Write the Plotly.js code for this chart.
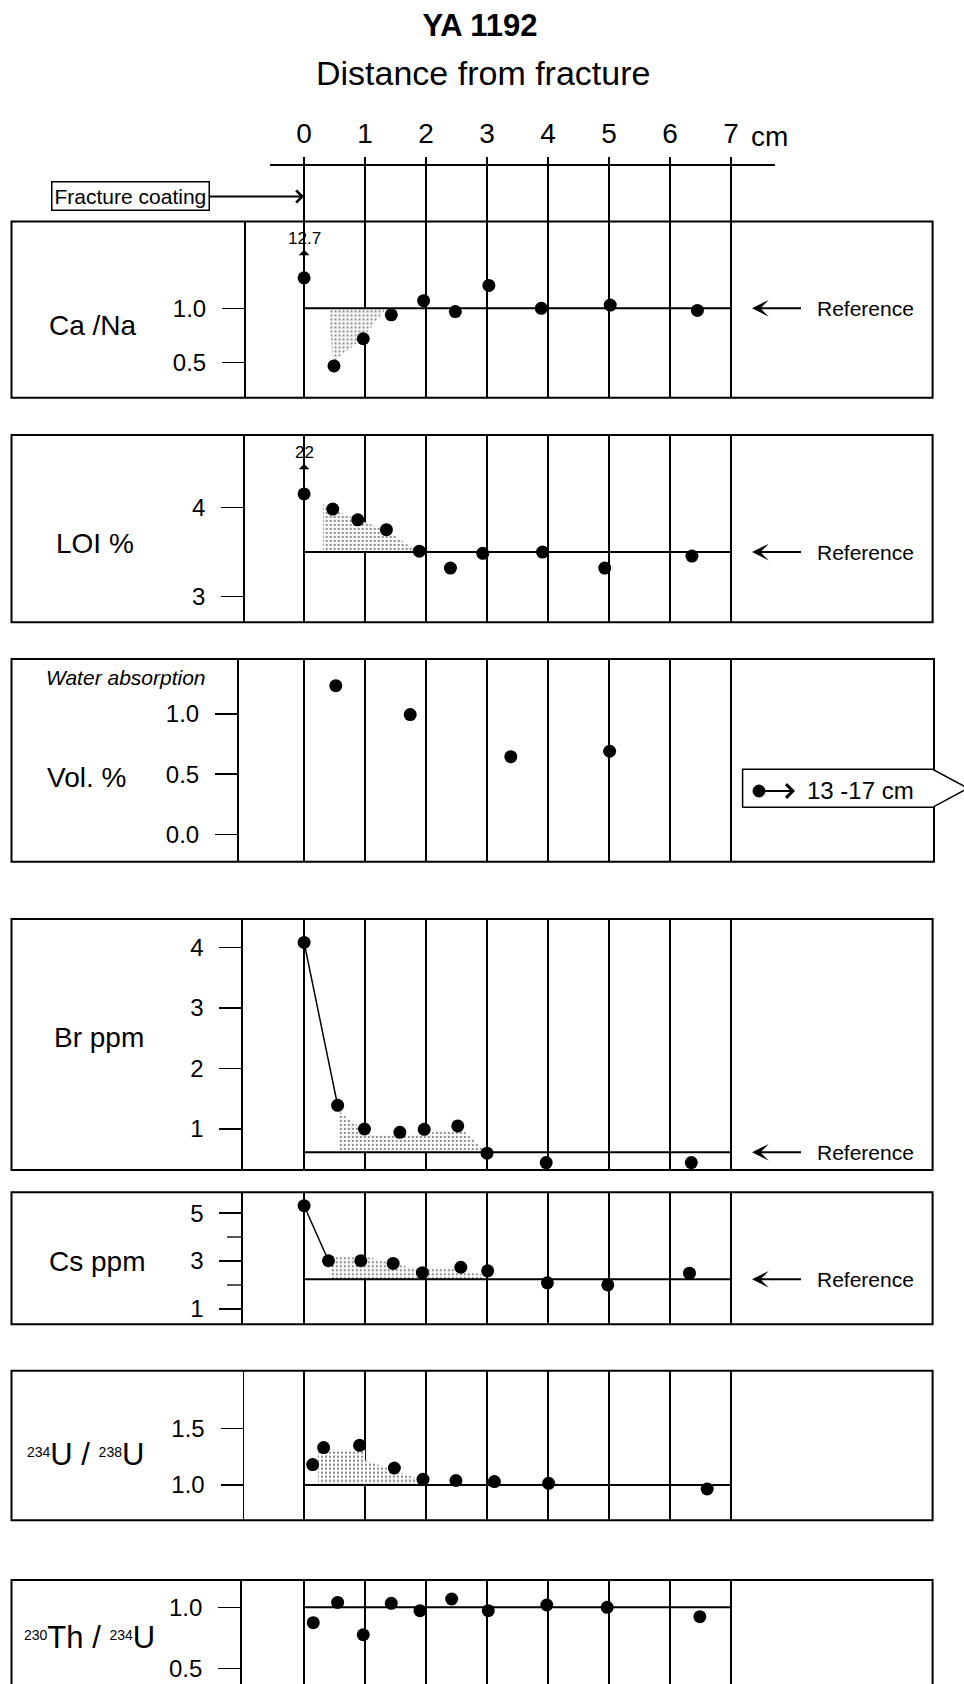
<!DOCTYPE html>
<html>
<head>
<meta charset="utf-8">
<script src="https://cdn.plot.ly/plotly-3.0.1.min.js"></script>
<style>html,body{margin:0;padding:0;background:#fff;}#chart{width:964px;height:1684px;}</style>
</head>
<body>
<div id="chart"></div>
<script>
// ---------------- DATA ----------------
const cmTicks = [0, 1, 2, 3, 4, 5, 6, 7];
const refSpan = [0, 7];

const xCaNa = [0, 0.49, 0.97, 1.43, 1.96, 2.48, 3.03, 3.89, 5.02, 6.45];
const yCaNa = [1.28, 0.47, 0.72, 0.94, 1.07, 0.97, 1.21, 1.0, 1.03, 0.98];
const refCaNa = 1.0;
const shadeCaNaX = [0.40, 0.47, 0.97, 1.35];
const shadeCaNaY = [1.0, 0.50, 0.73, 1.0];
const caNaTicks = [0.5, 1.0];
const caNaTickText = ['0.5', '1.0'];

const xLOI = [0, 0.47, 0.88, 1.35, 1.89, 2.40, 2.93, 3.91, 4.93, 6.36];
const yLOI = [4.15, 3.98, 3.86, 3.75, 3.51, 3.32, 3.485, 3.50, 3.32, 3.455];
const refLOI = 3.5;
const shadeLOIX = [0.31, 0.31, 0.47, 0.88, 1.35, 1.87];
const shadeLOIY = [3.5, 4.04, 3.98, 3.86, 3.75, 3.5];
const loiTicks = [3, 4];
const loiTickText = ['3', '4'];

const xWater = [0.52, 1.74, 3.39, 5.01];
const yWater = [1.235, 0.995, 0.645, 0.69];
const waterTicks = [0, 0.5, 1.0];
const waterTickText = ['0.0', '0.5', '1.0'];

const xBr = [0, 0.55, 0.99, 1.57, 1.97, 2.52, 3.0, 3.97, 6.35];
const yBr = [4.08, 1.39, 1.0, 0.945, 0.995, 1.05, 0.60, 0.445, 0.445];
const refBr = 0.615;
const shadeBrX = [0.56, 0.56, 1.08, 1.95, 2.23, 2.61, 2.94, 2.96];
const shadeBrY = [0.615, 1.30, 0.90, 0.90, 0.98, 0.98, 0.68, 0.615];
const brTicks = [1, 2, 3, 4];
const brTickText = ['1', '2', '3', '4'];

const xCs = [0, 0.40, 0.93, 1.46, 1.94, 2.57, 3.01, 3.99, 4.98, 6.32];
const yCs = [5.31, 3.01, 3.01, 2.90, 2.51, 2.74, 2.59, 2.09, 2.0, 2.49];
const refCs = 2.235;
const shadeCsX = [0.42, 0.42, 1.03, 1.35, 1.74, 2.5, 2.94, 2.94];
const shadeCsY = [2.235, 3.18, 3.18, 2.97, 2.74, 2.7, 2.41, 2.235];
const csTicks = [1, 3, 5];
const csTickText = ['1', '3', '5'];
const csMinorTicks = [2, 4];

const xU = [0.14, 0.32, 0.91, 1.48, 1.95, 2.49, 3.12, 4.01, 6.61];
const yU = [1.18, 1.33, 1.35, 1.15, 1.05, 1.04, 1.03, 1.015, 0.965];
const refU = 1.0;
const shadeUX = [0.23, 0.23, 1.0, 1.0, 2.0, 2.0];
const shadeUY = [1.0, 1.31, 1.31, 1.22, 1.03, 1.0];
const uTicks = [1.0, 1.5];
const uTickText = ['1.0', '1.5'];

const xTh = [0.15, 0.55, 0.97, 1.43, 1.90, 2.42, 3.02, 3.98, 4.97, 6.49];
const yTh = [0.874, 1.04, 0.775, 1.033, 0.972, 1.068, 0.972, 1.019, 1.0, 0.923];
const refTh = 1.0;
const thTicks = [0.5, 1.0];
const thTickText = ['0.5', '1.0'];

const caNaOffscale = '12.7';
const loiOffscale = '22';
const waterFarLabel = '13 -17 cm';

// ---------------- LAYOUT HELPERS ----------------
const W = 964, H = 1684;
const FONT = 'Liberation Sans, Arial, Helvetica, sans-serif';
const px = v => v / W;
const py = v => 1 - v / H;
const X0 = 304.1, PXCM = 60.98;     // pixel of 0 cm, pixels per cm
const RIGHT = 932.6, LEFTB = 11.5;
const cmAt = p => (p - X0) / PXCM;

const panels = [
  {top: 221.5, bottom: 397.7, left: 245.5, yr: [0.178, 1.798], tv: caNaTicks, tt: caNaTickText},
  {top: 435.0, bottom: 622.3, left: 244.7, yr: [2.714, 4.809], tv: loiTicks, tt: loiTickText},
  {top: 659.0, bottom: 861.7, left: 238.5, yr: [-0.228, 1.457], tv: waterTicks, tt: waterTickText},
  {top: 919.0, bottom: 1170.0, left: 242.8, yr: [0.323, 4.467], tv: brTicks, tt: brTickText},
  {top: 1192.3, bottom: 1324.3, left: 242.8, yr: [0.355, 5.871], tv: csTicks, tt: csTickText},
  {top: 1370.7, bottom: 1520.3, left: 244.0, yr: [0.689, 2.008], tv: uTicks, tt: uTickText},
  {top: 1580.0, bottom: 1684.0, left: 241.6, yr: [0.371, 1.224], tv: thTicks, tt: thTickText}
];

const layout = {
  width: W, height: H,
  margin: {l: 0, r: 0, t: 0, b: 0},
  paper_bgcolor: '#fff', plot_bgcolor: 'rgba(0,0,0,0)',
  showlegend: false,
  font: {family: FONT, color: '#000'},
  title: {text: '<b>YA 1192</b>', font: {size: 31, family: FONT, color: '#000'},
          x: 480 / W, xanchor: 'center', xref: 'container', y: py(25), yanchor: 'middle', yref: 'container'},
  shapes: [], annotations: []
};

panels.forEach((p, i) => {
  const n = i + 1;
  layout['xaxis' + n] = {
    domain: [px(p.left), px(RIGHT)], range: [cmAt(p.left), cmAt(RIGHT)],
    anchor: 'y' + n, tickvals: cmTicks, showticklabels: false, ticks: '',
    showgrid: true, gridcolor: '#000', gridwidth: 1.3, zeroline: false, showline: false, fixedrange: true
  };
  layout['yaxis' + n] = {
    domain: [py(p.bottom), py(p.top)], range: p.yr, anchor: 'x' + n,
    tickvals: p.tv, ticktext: p.tt, ticks: 'outside', ticklen: 22, tickwidth: 1.5, tickcolor: '#000',
    ticklabelstandoff: 11,
    showline: true, linecolor: '#000', linewidth: 1.5, showgrid: false, zeroline: false,
    tickfont: {size: 24, family: FONT, color: '#000'}, fixedrange: true
  };
  layout.shapes.push({type: 'rect', xref: 'paper', yref: 'paper',
    x0: px(LEFTB), x1: px(i === 2 ? 934 : RIGHT), y0: i === 6 ? -0.02 : py(p.bottom), y1: py(p.top),
    line: {color: '#000', width: 2}, fillcolor: 'rgba(0,0,0,0)', layer: 'above'});
});
layout.yaxis5.minor = {tickvals: csMinorTicks, ticks: 'outside', ticklen: 14, tickwidth: 1.5, tickcolor: '#555', showgrid: false};

// top distance axis
layout.xaxis8 = {
  domain: [px(270.4), px(774.6)], range: [cmAt(270.4), cmAt(774.6)],
  anchor: 'free', position: py(164), side: 'top',
  tickvals: cmTicks, ticks: '', showline: true, linecolor: '#000', linewidth: 1.5,
  showgrid: true, gridcolor: '#000', gridwidth: 1.3, zeroline: false,
  tickfont: {size: 28, family: FONT, color: '#000'}, ticklabelstandoff: 10, fixedrange: true
};
layout.yaxis8 = {domain: [py(221.5), py(157)], range: [0, 1], anchor: 'x8', visible: false, fixedrange: true};

// ---------------- TRACES ----------------
const dot = {color: '#000', size: 13};
const pattern = {shape: '.', size: 4, solidity: 0.25, fgcolor: '#888', bgcolor: '#fff'};
const traces = [];
function shade(n, sx, sy) {
  traces.push({type: 'scatter', x: sx, y: sy, xaxis: 'x' + n, yaxis: 'y' + n, mode: 'none',
    fill: 'toself', fillpattern: pattern, fillcolor: '#fff', hoverinfo: 'skip'});
}
function ref(n, v) {
  traces.push({type: 'scatter', x: refSpan, y: [v, v], xaxis: 'x' + n, yaxis: 'y' + n, mode: 'lines',
    line: {color: '#000', width: 2}, hoverinfo: 'skip'});
}
function pts(n, xs, ys) {
  traces.push({type: 'scatter', x: xs, y: ys, xaxis: 'x' + n, yaxis: 'y' + n, mode: 'markers',
    marker: dot, cliponaxis: false});
}
function link(n, xs, ys) {
  traces.push({type: 'scatter', x: xs.slice(0, 2), y: ys.slice(0, 2), xaxis: 'x' + n, yaxis: 'y' + n,
    mode: 'lines', line: {color: '#000', width: 1.5}, hoverinfo: 'skip'});
}
shade(1, shadeCaNaX, shadeCaNaY); ref(1, refCaNa); pts(1, xCaNa, yCaNa);
shade(2, shadeLOIX, shadeLOIY); ref(2, refLOI); pts(2, xLOI, yLOI);
pts(3, xWater, yWater);
shade(4, shadeBrX, shadeBrY); ref(4, refBr); link(4, xBr, yBr); pts(4, xBr, yBr);
shade(5, shadeCsX, shadeCsY); ref(5, refCs); link(5, xCs, yCs); pts(5, xCs, yCs);
shade(6, shadeUX, shadeUY); ref(6, refU); pts(6, xU, yU);
ref(7, refTh); pts(7, xTh, yTh);
traces.push({type: 'scatter', x: [], y: [], xaxis: 'x8', yaxis: 'y8', mode: 'markers'});

// ---------------- ANNOTATIONS ----------------
const A = layout.annotations;
const txt = (text, x, y, size, extra) => Object.assign({text: text, xref: 'paper', yref: 'paper',
  x: px(x), y: py(y), xanchor: 'center', yanchor: 'middle', showarrow: false,
  font: {size: size, family: FONT, color: '#000'}}, extra || {});

A.push(txt('Distance from fracture', 482.5, 73, 34));
A.push(txt('cm', 769, 136, 28));
A.push({text: 'Fracture coating', xref: 'x8', yref: 'paper', x: 0, y: py(196.5), ax: -174, ay: 0,
  axref: 'pixel', ayref: 'pixel', xanchor: 'center', yanchor: 'middle',
  showarrow: true, arrowhead: 4, arrowsize: 1.3, arrowwidth: 1.8,
  arrowcolor: '#000', bordercolor: '#000', borderwidth: 1.5, borderpad: 2, bgcolor: '#fff',
  font: {size: 21, family: FONT, color: '#000'}});

const SUP = s => '<span style="font-size:20px"><sup>' + s + '</sup></span>';
const labels = [
  {t: 'Ca /Na', x: 93, y: 326, s: 28},
  {t: 'LOI %', x: 95, y: 543, s: 28},
  {t: 'Vol. %', x: 86, y: 777, s: 28},
  {t: 'Br ppm', x: 99, y: 1037, s: 28},
  {t: 'Cs ppm', x: 97, y: 1261, s: 28},
  {t: SUP('234') + 'U / ' + SUP('238') + 'U', x: 85, y: 1454, s: 31},
  {t: SUP('230') + 'Th / ' + SUP('234') + 'U', x: 89, y: 1637, s: 31}
];
labels.forEach(l => A.push(txt(l.t, l.x, l.y, l.s)));
A.push(txt('<i>Water absorption</i>', 126, 677, 21));

// off-scale values
A.push({text: caNaOffscale, xref: 'x1', yref: 'y1', x: xCaNa[0], y: yCaNa[0], ax: 0, ay: -39,
  showarrow: true, arrowside: 'start', arrowhead: 4, arrowsize: 1.5, arrowwidth: 1.8, arrowcolor: '#000',
  standoff: 5, font: {size: 17, family: FONT, color: '#000'}});
A.push({text: loiOffscale, xref: 'x2', yref: 'y2', x: xLOI[0], y: yLOI[0], ax: 0, ay: -41,
  showarrow: true, arrowside: 'start', arrowhead: 4, arrowsize: 1.5, arrowwidth: 1.8, arrowcolor: '#000',
  standoff: 5, font: {size: 17, family: FONT, color: '#000'}});

// reference arrows
[[1, refCaNa], [2, refLOI], [4, refBr], [5, refCs]].forEach(r => A.push({
  text: 'Reference', xref: 'x' + r[0], yref: 'y' + r[0], x: cmAt(752), y: r[1], ax: 113, ay: 0,
  axref: 'pixel', ayref: 'pixel', xanchor: 'center', yanchor: 'middle',
  showarrow: true, arrowhead: 3, arrowsize: 1.4, arrowwidth: 2,
  arrowcolor: '#000', borderpad: 15, font: {size: 21, family: FONT, color: '#000'}}));

// callout for far water sample
const cx0 = 742.6, cx1 = 932.6, ctop = 769.3, cbot = 807.3, cmid = 788.3;
layout.shapes.push({type: 'path', xref: 'paper', yref: 'paper', layer: 'above',
  path: `M ${px(cx0)},${py(ctop)} L ${px(cx1)},${py(ctop)} L ${px(968)},${py(cmid)} L ${px(cx1)},${py(cbot)} L ${px(cx0)},${py(cbot)} Z`,
  line: {color: '#000', width: 1.5}, fillcolor: '#fff'});
layout.shapes.push({type: 'circle', xref: 'paper', yref: 'paper', layer: 'above',
  x0: px(753), x1: px(765), y0: py(797), y1: py(785), line: {color: '#000', width: 1}, fillcolor: '#000'});
A.push({text: '', xref: 'paper', yref: 'paper', x: px(795), y: py(791), ax: -36, ay: 0,
  axref: 'pixel', ayref: 'pixel', showarrow: true, arrowhead: 4, arrowsize: 1.2, arrowwidth: 2.2, arrowcolor: '#000'});
A.push(txt(waterFarLabel, 860, 790, 24));

Plotly.newPlot('chart', traces, layout, {staticPlot: true, displayModeBar: false});
</script>
</body>
</html>
